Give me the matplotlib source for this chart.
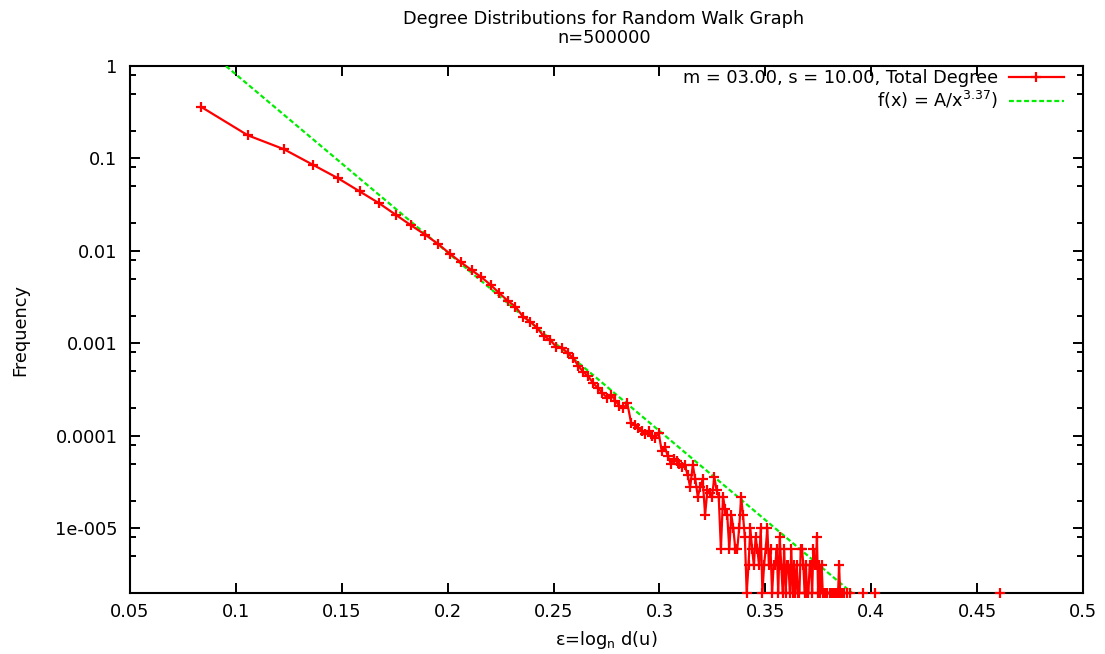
import matplotlib
matplotlib.use("Agg")
import matplotlib.pyplot as plt
from matplotlib.ticker import FixedLocator, NullFormatter
import numpy as np

plt.rcParams["font.family"] = ["DejaVu Sans"]
plt.rcParams["mathtext.default"] = "regular"

# Datos
N_NODES = 500000

# grados bajos: frecuencia
head_degree = [3, 4, 5, 6, 7, 8, 9, 10, 11, 12,
               13, 14, 15, 16, 17, 18, 19, 20, 21, 22,
               23, 24, 25, 26, 27, 28, 29, 30, 31, 32,
               33, 34, 35, 36, 37, 38, 39, 40, 41, 42]
head_freq = [0.36, 0.178, 0.126, 0.085, 0.061, 0.044, 0.033, 0.0246, 0.0189, 0.0150,
             0.0119, 0.0093, 0.0075, 0.0062, 0.0052, 0.0043, 0.0035, 0.0029, 0.0025, 0.00195,
             0.00172, 0.00148, 0.00120, 0.00110, 0.00092, 0.00090, 0.00079, 0.00070, 0.00057, 0.00049,
             0.00044, 0.00037, 0.00033, 0.00029, 0.00026, 0.00028, 0.00024, 0.00021, 0.00020, 0.000225]

# cola: numero de nodos por grado (0 = ninguno, corta la linea como gnuplot)
tail_degree = [43, 44, 45, 46, 47, 48, 49, 50, 51, 52,
               53, 54, 55, 56, 57, 58, 59, 60, 61, 62,
               63, 64, 65, 66, 67, 68, 69, 70, 71, 72,
               73, 74, 75, 76, 77, 78, 79, 80, 81, 82,
               83, 84, 85, 86, 87, 88, 89, 90, 91, 92,
               93, 94, 95, 96, 97, 98, 99, 100, 101, 102,
               103, 104, 105, 106, 107, 108, 109, 110, 111, 112,
               113, 114, 115, 116, 117, 118, 119, 120, 121, 122,
               123, 124, 125, 126, 127, 128, 129, 130, 131, 132,
               133, 134, 135, 136, 137, 138, 139, 140, 141, 142,
               143, 144, 145, 146, 147, 148, 149, 150, 151, 152,
               153, 154, 155, 156, 157, 158, 159, 160, 161, 162,
               163, 164, 165, 166, 167, 168, 181, 182, 195, 196,
               423]
tail_count = [69, 66, 61, 57, 52, 56, 50, 48, 54, 34,
              38, 30, 25, 28, 27, 25, 23, 24, 19, 14,
              24, 17, 11, 14, 17, 7, 13, 12, 11, 18,
              13, 11, 3, 11, 8, 7, 3, 7, 5, 3,
              3, 5, 11, 7, 4, 1, 2, 5, 3, 2,
              4, 3, 2, 5, 1, 2, 3, 5, 2, 3,
              1, 2, 2, 3, 1, 4, 2, 1, 3, 1,
              2, 2, 1, 3, 1, 2, 1, 2, 1, 1,
              3, 3, 2, 1, 2, 1, 1, 2, 2, 1,
              3, 2, 2, 4, 1, 2, 1, 2, 1, 1,
              0, 1, 1, 0, 1, 1, 0, 1, 0, 1,
              1, 0, 1, 2, 1, 0, 1, 0, 1, 0,
              0, 1, 0, 0, 1, 0, 1, 0, 1, 0,
              1]

# ajuste f(x) = A/x^3.37 (puntos leidos sobre la recta verde)
fit_eps = [0.0953, 0.2, 0.3, 0.391]
fit_freq = [1.0, 9.6e-3, 1.13e-4, 2.0e-6]

x_ticks = [0.05, 0.1, 0.15, 0.2, 0.25, 0.3, 0.35, 0.4, 0.45, 0.5]
x_labels = ["0.05", "0.1", "0.15", "0.2", "0.25", "0.3", "0.35", "0.4", "0.45", "0.5"]
y_ticks = [1, 0.1, 0.01, 0.001, 0.0001, 1e-5]
y_labels = ["1", "0.1", "0.01", "0.001", "0.0001", "1e-005"]

C_RED = "#ff0000"
C_GREEN = "#00ee00"
FS = 12.8

degree = np.array(head_degree + tail_degree, dtype=float)
counts = np.array(tail_count, dtype=float)
tail_freq = np.where(counts > 0, counts / N_NODES, np.nan)
freq = np.concatenate([np.array(head_freq), tail_freq])
eps = np.log(degree) / np.log(N_NODES)

W, H = 1105, 654
fig = plt.figure(figsize=(W / 100, H / 100), dpi=100)
ax = fig.add_axes([130 / W, 1 - 593 / H, (1083 - 130) / W, (593 - 66) / H])

ax.plot(eps, freq, color=C_RED, lw=1.6, marker="+", ms=7.5, mew=1.6,
        clip_on=False, zorder=4,
        label="m = 03.00, s = 10.00, Total Degree")
ax.plot(fit_eps, fit_freq, color=C_GREEN, lw=1.6, ls=(0, (2.2, 1.2)),
        zorder=3, label="f(x) = A/x$^{3.37}$)")

ax.set_yscale("log")
ax.set_xlim(0.05, 0.5)
ax.set_ylim(2e-6, 1)

ax.xaxis.set_major_locator(FixedLocator(x_ticks))
ax.set_xticklabels(x_labels)
ax.yaxis.set_major_locator(FixedLocator(y_ticks))
ax.set_yticklabels(y_labels)
minors = [s * 10.0 ** k for k in range(-6, 0) for s in (2, 5, 8)]
ax.yaxis.set_minor_locator(FixedLocator([m for m in minors if 2e-6 <= m <= 1]))
ax.yaxis.set_minor_formatter(NullFormatter())
ax.xaxis.set_minor_locator(FixedLocator([]))

ax.tick_params(which="both", direction="in", top=True, right=True,
               width=1.4, labelsize=FS)
ax.tick_params(which="major", length=7)
ax.tick_params(which="minor", length=4)
ax.tick_params(axis="y", pad=9)
ax.tick_params(axis="x", pad=7)
for sp in ax.spines.values():
    sp.set_linewidth(1.5)

leg = ax.legend(loc="upper right", bbox_to_anchor=(1064 / W, 1 - 69 / H),
                bbox_transform=fig.transFigure, frameon=False, markerfirst=False,
                fontsize=FS, handlelength=3.1, handletextpad=0.6,
                labelspacing=0.1, borderaxespad=0, borderpad=0)

fig.text(604 / W, 1 - 19 / H, "Degree Distributions for Random Walk Graph",
         ha="center", va="center", fontsize=FS)
fig.text(604 / W, 1 - 38 / H, "n=500000", ha="center", va="center", fontsize=FS)
fig.text(20 / W, 1 - 330 / H, "Frequency", rotation=90, ha="center",
         va="center", fontsize=FS)
fig.text(606 / W, 1 - 640 / H, r"ε=log$_{n}$ d(u)", ha="center",
         va="center", fontsize=FS)

fig.savefig("out.png", dpi=100)
